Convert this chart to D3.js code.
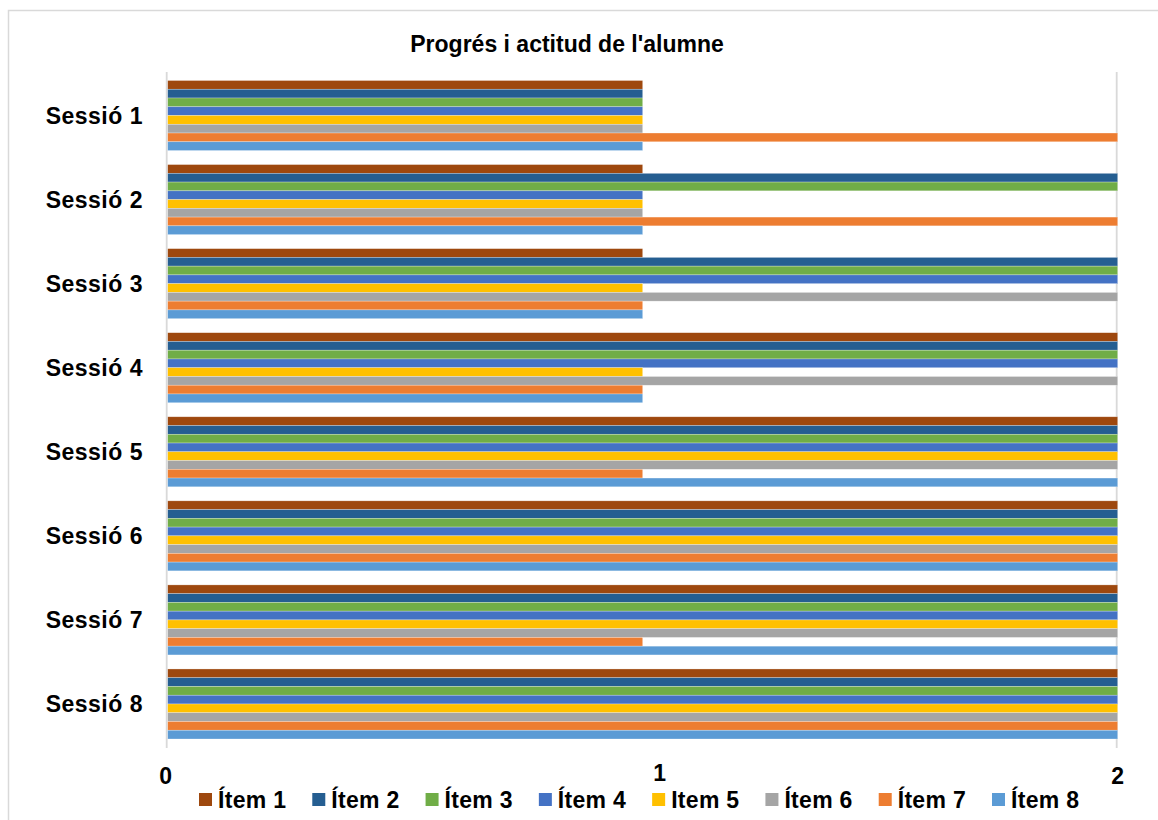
<!DOCTYPE html>
<html>
<head>
<meta charset="utf-8">
<script src="https://cdn.jsdelivr.net/npm/d3@7"></script>
<style>
  body { margin: 0; background: #fff; }
  text { font-family: 'Liberation Sans', Arial, sans-serif; font-weight: bold; fill: #000; }
</style>
</head>
<body>
<svg id="chart" width="1158" height="820"></svg>
<script>
const sessions = ['Sessió 1', 'Sessió 2', 'Sessió 3', 'Sessió 4', 'Sessió 5', 'Sessió 6', 'Sessió 7', 'Sessió 8']
const items = ['Ítem 1', 'Ítem 2', 'Ítem 3', 'Ítem 4', 'Item 5', 'Ítem 6', 'Ítem 7', 'Ítem 8']
const itemColors = ['#9e480e', '#255e91', '#70ad47', '#4472c4', '#ffc000', '#a5a5a5', '#ed7d31', '#5b9bd5']
const tickValues = [0, 1, 2]

// one row per session, one value per item
const values = [
  [1, 1, 1, 1, 1, 1, 2, 1],
  [1, 2, 2, 1, 1, 1, 2, 1],
  [1, 2, 2, 2, 1, 2, 1, 1],
  [2, 2, 2, 2, 1, 2, 1, 1],
  [2, 2, 2, 2, 2, 2, 1, 2],
  [2, 2, 2, 2, 2, 2, 2, 2],
  [2, 2, 2, 2, 2, 2, 1, 2],
  [2, 2, 2, 2, 2, 2, 2, 2]
]

const svg = d3.select('#chart')

// chart frame
svg.append('rect')
  .attr('x', 8.5).attr('y', 10.5)
  .attr('width', 1170).attr('height', 830)
  .attr('fill', 'none')
  .attr('stroke', '#d9d9d9')
  .attr('stroke-width', 1.5)

const x = d3.scaleLinear().domain([0, 2]).range([167.7, 1117.7])
const y = d3.scaleBand().domain(sessions).range([73.5, 746])
  .paddingInner(0.167).paddingOuter(0.0833)
const yItem = d3.scaleBand().domain(items).range([0, y.bandwidth()])

svg.append('text')
  .attr('x', 567).attr('y', 52)
  .attr('text-anchor', 'middle')
  .style('font-size', '23px')
  .text("Progrés i actitud de l'alumne")

// gridlines at the ends of the axis only
svg.selectAll('line.grid')
  .data([0, 2])
  .enter()
  .append('line')
  .attr('class', 'grid')
  .attr('x1', (d) => x(d) - 1).attr('x2', (d) => x(d) - 1)
  .attr('y1', 72).attr('y2', 748)
  .attr('stroke', '#d9d9d9')
  .attr('stroke-width', 1.8)

const groups = svg.selectAll('g.session')
  .data(values)
  .enter()
  .append('g')
  .attr('class', 'session')
  .attr('transform', (d, i) => `translate(0,${y(sessions[i])})`)

groups.selectAll('rect')
  .data((row) => row.map((v, j) => ({ item: items[j], value: v, color: itemColors[j] })))
  .enter()
  .append('rect')
  .attr('x', x(0))
  .attr('y', (d) => yItem(d.item))
  .attr('width', (d) => x(d.value) - x(0))
  .attr('height', yItem.bandwidth())
  .attr('fill', (d) => d.color)
  .attr('stroke', 'rgba(255,255,255,0.45)')
  .attr('stroke-width', 0.6)

svg.selectAll('text.cat')
  .data(sessions)
  .enter()
  .append('text')
  .attr('class', 'cat')
  .attr('x', 143)
  .attr('y', (d) => y(d) + y.bandwidth() / 2)
  .attr('dy', '0.36em')
  .attr('text-anchor', 'end')
  .style('font-size', '23px')
  .style('letter-spacing', '0.5px')
  .text((d) => d)

// tick labels sit a little off their positions, as in the source chart
const tickNudge = { 0: [-2, 0], 1: [17, -3], 2: [0, 0] }
svg.selectAll('text.tick')
  .data(tickValues)
  .enter()
  .append('text')
  .attr('class', 'tick')
  .attr('x', (d) => x(d) + tickNudge[d][0])
  .attr('y', (d) => 776 + tickNudge[d][1])
  .attr('dy', '0.36em')
  .attr('text-anchor', 'middle')
  .style('font-size', '23px')
  .text((d) => d)

const legendX = d3.scalePoint().domain(items).range([199, 992])
const legend = svg.selectAll('g.legend')
  .data(items)
  .enter()
  .append('g')
  .attr('class', 'legend')
  .attr('transform', (d) => `translate(${legendX(d)},793)`)

legend.append('rect')
  .attr('width', 13).attr('height', 13)
  .attr('fill', (d, i) => itemColors[i])

legend.append('text')
  .attr('x', 19).attr('y', 7)
  .attr('dy', '0.36em')
  .style('font-size', '23px')
  .style('letter-spacing', '0.3px')
  .text((d) => d)
</script>
</body>
</html>
